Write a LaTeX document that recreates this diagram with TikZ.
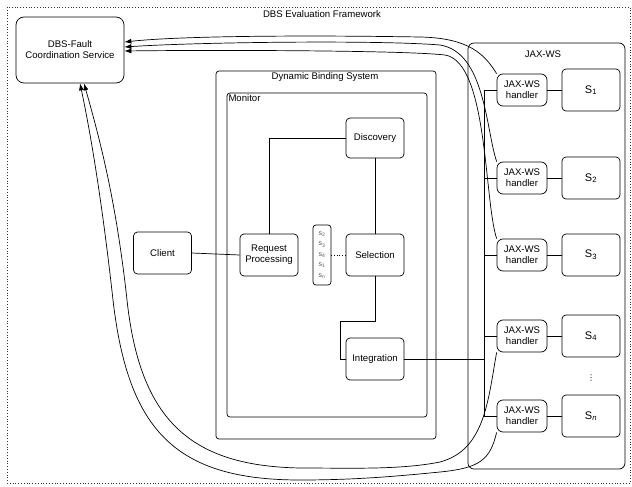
\documentclass[tikz,border=0pt]{standalone}
\usepackage{fontspec}
\setmainfont{Liberation Sans}
\newfontfamily\symfont{DejaVu Sans}
\usetikzlibrary{arrows.meta, calc}

\begin{document}
\begin{tikzpicture}[x=1pt,y=-1pt,font=\fontsize{9.6}{11}\selectfont,line width=0.7pt,
  box/.style={draw,rounded corners=4pt,minimum width=58pt,minimum height=42pt,align=center,inner sep=1pt},
  handler/.style={draw,rounded corners=6pt,minimum width=50pt,minimum height=32pt,align=center,inner sep=1pt},
  svc/.style={draw,rounded corners=4pt,minimum width=58pt,minimum height=42pt,font=\fontsize{11}{12}\selectfont},
  frame/.style={draw,rounded corners=3pt,inner sep=0pt},
  notify/.style={-{Latex[length=7pt,width=5pt]}}]
  \useasboundingbox (0,0) rectangle (632,487);
  \draw[dotted,gray!40!black,line width=0.8pt] (7,7) rectangle (630,483);
  \node (evaltitle) at (322,14) {DBS Evaluation Framework};

  \node[box,rounded corners=8pt,minimum width=108pt,minimum height=66pt] (fault) at (70,50) {DBS-Fault\\Coordination Service};

  \node[frame,minimum width=220pt,minimum height=368pt] (dbs) at (326,255) {};
  \node (dbstitle) at (325,77) {Dynamic Binding System};
  \node[frame,minimum width=200pt,minimum height=324pt] (mon) at (327,255) {};
  \node[anchor=north west,inner sep=1.5pt] (montitle) at (mon.north west) {Monitor};

  \node[box] (client) at (162.5,253) {Client};
  \node[box] (req) at (269,255) {Request\\Processing};
  \node[box,minimum height=40pt] (disc) at (375,138) {Discovery};
  \node[box] (sel) at (375,255) {Selection};
  \node[box] (integ) at (375,359) {Integration};
  \node[draw,rounded corners=3pt,minimum width=18pt,minimum height=60pt,inner sep=0pt,align=center,
        text=gray!70!black,font=\fontsize{7}{10.4}\selectfont] (cand) at (322,255)
        {s\textsubscript{2}\\s\textsubscript{3}\\s\textsubscript{4}\\s\textsubscript{1}\\s\textsubscript{n}};

  \draw (client.east) -- (req.west);
  \draw (disc.west) -| (req.north);
  \draw (disc.south) -- (sel.north);
  \draw (sel.south) |- (340,321) |- (integ.west);
  \draw[dotted] (cand.east) -- (sel.west);

  \node[frame,rounded corners=6pt,minimum width=157pt,minimum height=426pt] (jax) at (546.5,256) {};
  \node (jaxtitle) at (543,54) {JAX-WS};

  \coordinate (bus) at (484,0);
  \foreach \n/\y/\lab in {1/90/1,2/178/2,3/255/3,4/336/4,n/416/\textit{n}} {
    \node[handler] (h\n) at (522,\y) {JAX-WS\\handler};
    \node[svc] (s\n) at (591,\y) {S\textsubscript{\lab}};
    \draw (h\n.east) -- (s\n.west);
    \draw (h\n.west) -- (h\n.west -| bus);
  }
  \draw (h1.west -| bus) -- (hn.west -| bus);
  \draw (integ.east) -- (integ.east -| bus);
  \node[font=\symfont\fontsize{8}{9}\selectfont,inner sep=0pt] (sdots) at (591,378) {⋮};

  % fault reports back to the coordination service
  \draw[notify] (h1.north west) .. controls (485,55) and (470,38) .. (420,37)
    .. controls (300,35) and (180,36) .. ($(fault.east)+(0,-8)$);
  \draw[notify] (h2.north west) .. controls (486,130) and (485,52) .. (440,45)
    .. controls (380,40) and (200,42) .. ($(fault.east)+(0,-3)$);
  \draw[notify] (h3.north west) .. controls (484,200) and (488,62) .. (445,55)
    .. controls (400,50) and (200,50) .. ($(fault.east)+(0,1)$);
  \draw[notify] (h4.south west) .. controls (488,400) and (485,450) .. (440,462)
    .. controls (400,470) and (350,468) .. (300,468)
    .. controls (190,466) and (140,420) .. (127,300)
    .. controls (116,200) and (100,140) .. ($(fault.south)+(14,0)$);
  \draw[notify] (hn.south west) .. controls (490,460) and (480,468) .. (440,472)
    .. controls (390,477) and (350,480) .. (300,480)
    .. controls (175,480) and (128,430) .. (113,300)
    .. controls (103,210) and (92,140) .. ($(fault.south)+(10,0)$);
\end{tikzpicture}
\end{document}
